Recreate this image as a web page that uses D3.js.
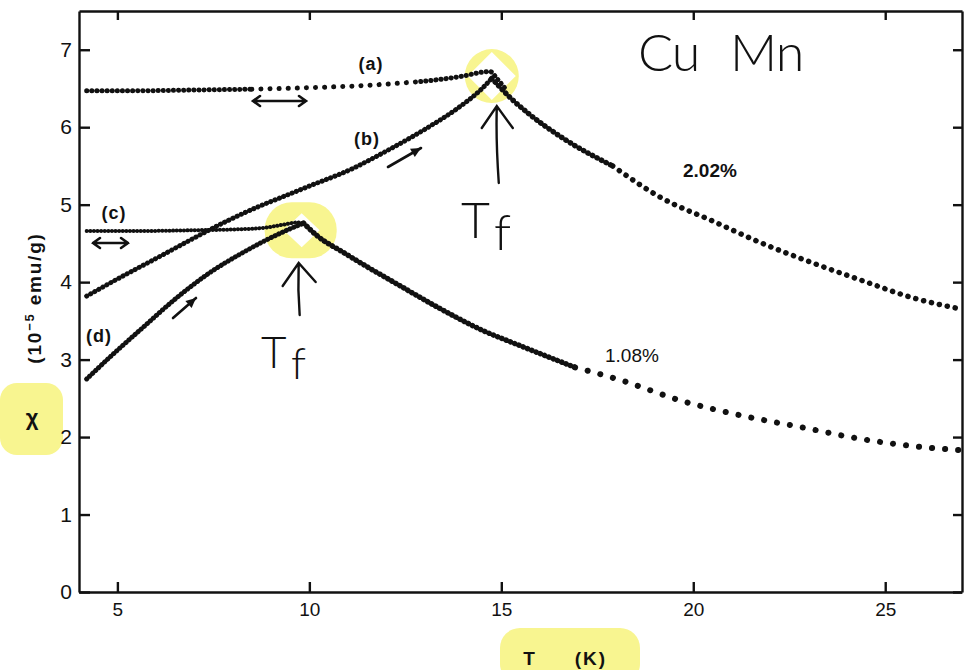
<!DOCTYPE html>
<html><head><meta charset="utf-8">
<script src="https://cdn.jsdelivr.net/npm/d3@7"></script>
<style>html,body{margin:0;padding:0;background:#fff;}svg{display:block;}</style>
</head><body>
<svg id="c" width="965" height="670"></svg>
<script>
// ---------- data ----------
const xTicks = [5, 10, 15, 20, 25];
const yTicks = [0, 1, 2, 3, 4, 5, 6, 7];
// (a) 2.02% field-cooled
const tA   = [4.2, 5.5, 7.0, 8.5, 10.0, 11.5, 12.9, 14.0, 14.5, 14.7, 14.9, 15.1];
const chiA = [6.47, 6.47, 6.48, 6.49, 6.51, 6.54, 6.59, 6.66, 6.71, 6.72, 6.62, 6.50];
// (b) 2.02% zero-field-cooled
const tB   = [4.2, 5.0, 6.1, 7.0, 7.9, 8.7, 9.3, 10.0, 11.1, 12.0, 13.1, 13.85, 14.5, 14.75];
const chiB = [3.82, 4.04, 4.33, 4.57, 4.80, 4.98, 5.10, 5.24, 5.46, 5.69, 6.00, 6.24, 6.50, 6.63];
// 2.02% above Tf
const tHi   = [14.75, 15.3, 15.75, 16.6, 17.9, 19.2, 20.5, 21.8, 23.1, 24.4, 25.7, 27.0];
const chiHi = [6.63, 6.35, 6.16, 5.86, 5.50, 5.08, 4.79, 4.50, 4.25, 4.02, 3.80, 3.65];
// (c) 1.08% field-cooled
const tC   = [4.2, 5.5, 7.0, 8.0, 8.8, 9.3, 9.7, 9.85];
const chiC = [4.66, 4.66, 4.67, 4.68, 4.70, 4.74, 4.77, 4.76];
// (d) 1.08% zero-field-cooled
const tD   = [4.2, 4.8, 5.7, 6.55, 7.4, 8.3, 9.15, 9.6, 9.85];
const chiD = [2.75, 3.03, 3.43, 3.80, 4.12, 4.39, 4.61, 4.71, 4.76];
// 1.08% above Tf
const tLo   = [9.85, 10.2, 10.9, 11.5, 12.2, 13.4, 14.5, 15.49, 16.92, 18.14, 19.68, 21.24, 22.89, 24.32, 25.98, 26.97];
const chiLo = [4.76, 4.60, 4.38, 4.20, 4.00, 3.66, 3.38, 3.18, 2.90, 2.73, 2.47, 2.28, 2.12, 1.98, 1.87, 1.83];
const curveLabels = ["(a)", "(b)", "(c)", "(d)"];
const concLabels = ["2.02%", "1.08%"];
const tfValues = [14.7, 9.8];

// ---------- drawing ----------
const svg = d3.select("#c");
const x = d3.scaleLinear().domain([4, 27]).range([79, 962]);
const y = d3.scaleLinear().domain([0, 7.5]).range([592, 11]);
const zip = (a, b) => a.map((v, i) => [v, b[i]]);
const YEL = "#f8f590";

// highlight boxes for axis titles
svg.append("rect").attr("x", 0).attr("y", 383).attr("width", 63).attr("height", 72).attr("rx", 17).attr("fill", YEL);
svg.append("rect").attr("x", 500).attr("y", 628).attr("width", 140).attr("height", 56).attr("rx", 20).attr("fill", YEL);

// Tf highlights
const tf1x = x(tfValues[0]), tf1y = y(6.66);
svg.append("circle").attr("cx", tf1x + 2).attr("cy", tf1y).attr("r", 27).attr("fill", YEL);
svg.append("path").attr("d", `M${tf1x+2},${tf1y-24} L${tf1x+26},${tf1y} L${tf1x+2},${tf1y+24} L${tf1x-22},${tf1y} Z`).attr("fill", "#fff");
const tf2x = x(tfValues[1]), tf2y = y(4.76);
svg.append("rect").attr("x", tf2x - 37).attr("y", tf2y - 21).attr("width", 72).attr("height", 56).attr("rx", 27).attr("fill", YEL);
svg.append("path").attr("d", `M${tf2x},${tf2y-10} L${tf2x+18},${tf2y+7} L${tf2x},${tf2y+24} L${tf2x-18},${tf2y+7} Z`).attr("fill", "#fff");

// axes
const axG = svg.append("g").attr("font-family", "'Liberation Sans', Arial, sans-serif");
const axLeft = axG.append("g").attr("transform", `translate(${x(4)},0)`)
  .call(d3.axisLeft(y).tickValues(yTicks).tickFormat(d3.format("d")).tickSize(-11).tickSizeOuter(0).tickPadding(7));
const axBottom = axG.append("g").attr("transform", `translate(0,${y(0)})`)
  .call(d3.axisBottom(x).tickValues(xTicks).tickFormat(d3.format("d")).tickSize(-10).tickSizeOuter(0).tickPadding(11));
const axTop = axG.append("g").attr("transform", `translate(0,${y(7.5)})`)
  .call(d3.axisTop(x).tickValues(xTicks).tickFormat("").tickSize(-9).tickSizeOuter(0));
const axRight = axG.append("g").attr("transform", `translate(${x(27)},0)`)
  .call(d3.axisRight(y).tickValues(yTicks).tickFormat("").tickSize(-9).tickSizeOuter(0));
[axLeft, axBottom, axTop, axRight].forEach(g => {
  g.selectAll(".domain").attr("stroke", "#111").attr("stroke-width", 2.4);
  g.selectAll(".tick line").attr("stroke", "#111").attr("stroke-width", 2.4);
});
axLeft.selectAll(".tick text").attr("font-size", 21).attr("fill", "#111");
axBottom.selectAll(".tick text").attr("font-size", 19).attr("fill", "#111");

// curves
const line = d3.line().x(d => x(d[0])).y(d => y(d[1])).curve(d3.curveMonotoneX);
function dotted(data, w, gap) {
  svg.append("path").attr("d", line(data)).attr("fill", "none").attr("stroke", "#111")
    .attr("stroke-width", w).attr("stroke-linecap", "round").attr("stroke-dasharray", `0.1 ${gap}`);
}
const a = zip(tA, chiA);
dotted(a.filter(d => d[0] <= 8.5), 5, 5);
dotted(a.filter(d => d[0] >= 8.5 && d[0] <= 12.9), 5, 9);
dotted(a.filter(d => d[0] >= 12.9), 5, 5);
dotted(zip(tB, chiB), 5, 4.5);
const hi = zip(tHi, chiHi);
dotted(hi.filter(d => d[0] <= 17.9), 5.5, 5);
dotted(hi.filter(d => d[0] >= 17.9), 5.5, 8);
dotted(zip(tC, chiC), 4, 3.5);
dotted(zip(tD, chiD), 5, 4);
const lo = zip(tLo, chiLo);
dotted(lo.filter(d => d[0] <= 16.92), 5.5, 4.5);
dotted(lo.filter(d => d[0] >= 16.92), 6, 13);

// labels
const lab = svg.append("g").attr("font-family", "'Liberation Sans', Arial, sans-serif").attr("fill", "#111");
const labPos = [[371, 70], [367, 145], [114, 219], [99, 342]];
curveLabels.forEach((t, i) => lab.append("text").attr("x", labPos[i][0]).attr("y", labPos[i][1])
  .attr("text-anchor", "middle").attr("font-size", 18).attr("font-weight", "bold").attr("letter-spacing", 1).text(t));
lab.append("text").attr("x", 683).attr("y", 177).attr("font-size", 19).attr("font-weight", "bold").text(concLabels[0]);
lab.append("text").attr("x", 605).attr("y", 362).attr("font-size", 19).text(concLabels[1]);

// axis titles
lab.append("text").attr("x", 32).attr("y", 425).attr("text-anchor", "middle").attr("font-size", 22).attr("font-weight", "bold").text("χ");
const yt = lab.append("text").attr("transform", "translate(41,298) rotate(-90)").attr("text-anchor", "middle")
  .attr("font-size", 19).attr("font-weight", "bold").attr("letter-spacing", 1.8);
yt.append("tspan").text("(10");
yt.append("tspan").attr("dy", -7).attr("font-size", 13).text("−5");
yt.append("tspan").attr("dy", 7).text(" emu/g)");
lab.append("text").attr("x", 529).attr("y", 665).attr("text-anchor", "middle").attr("font-size", 19).attr("font-weight", "bold").text("T");
lab.append("text").attr("x", 591).attr("y", 665).attr("text-anchor", "middle").attr("font-size", 19).attr("font-weight", "bold").attr("letter-spacing", 2).text("(K)");

// arrows
const arr = svg.append("g").attr("stroke", "#111").attr("fill", "none").attr("stroke-width", 2.6).attr("stroke-linecap", "round");
function dbl(x1, x2, yy) {
  arr.append("path").attr("d", `M${x1},${yy} L${x2},${yy} M${x1+7},${yy-5} L${x1},${yy} L${x1+7},${yy+5} M${x2-7},${yy-5} L${x2},${yy} L${x2-7},${yy+5}`);
}
dbl(253, 306, 101);
dbl(93, 128, 243);
function single(x1, y1, x2, y2) {
  arr.append("path").attr("d", `M${x1},${y1} L${x2},${y2}`);
  const ang = Math.atan2(y2 - y1, x2 - x1), L = 11;
  const p1 = [x2 - L*Math.cos(ang - 0.45), y2 - L*Math.sin(ang - 0.45)];
  const p2 = [x2 - L*Math.cos(ang + 0.45), y2 - L*Math.sin(ang + 0.45)];
  svg.append("path").attr("d", `M${x2},${y2} L${p1} L${p2} Z`).attr("fill", "#111");
}
single(388, 167, 421, 148);
single(173, 318, 196, 298);

// handwritten Tf annotations
const hw = svg.append("g").attr("stroke", "#111").attr("fill", "none").attr("stroke-width", 2.4).attr("stroke-linecap", "round");
hw.append("path").attr("d", `M${tf1x+9},183 Q${tf1x+6},140 ${tf1x+7},107 M${tf1x-8},128 L${tf1x+7},106 L${tf1x+23},128`);
hw.append("path").attr("d", `M${tf2x-2},315 Q${tf2x-4},290 ${tf2x-3},264 M${tf2x-19},286 L${tf2x-3},263 L${tf2x+14},282`);
const hand = svg.append("g").attr("font-family", "Lato, 'Open Sans', sans-serif").attr("font-weight", 300).attr("fill", "#111");
hand.append("text").attr("x", 461).attr("y", 238).attr("font-size", 50).text("T");
hand.append("text").attr("x", 494).attr("y", 250).attr("font-size", 50).text("f");
hand.append("text").attr("x", 261).attr("y", 368).attr("font-size", 44).text("T");
hand.append("text").attr("x", 291).attr("y", 379).attr("font-size", 44).text("f");
hand.append("text").attr("x", 638).attr("y", 71).attr("font-size", 52).attr("letter-spacing", -1).text("Cu");
hand.append("text").attr("x", 730).attr("y", 71).attr("font-size", 52).attr("letter-spacing", -1).text("Mn");
</script>
</body></html>
